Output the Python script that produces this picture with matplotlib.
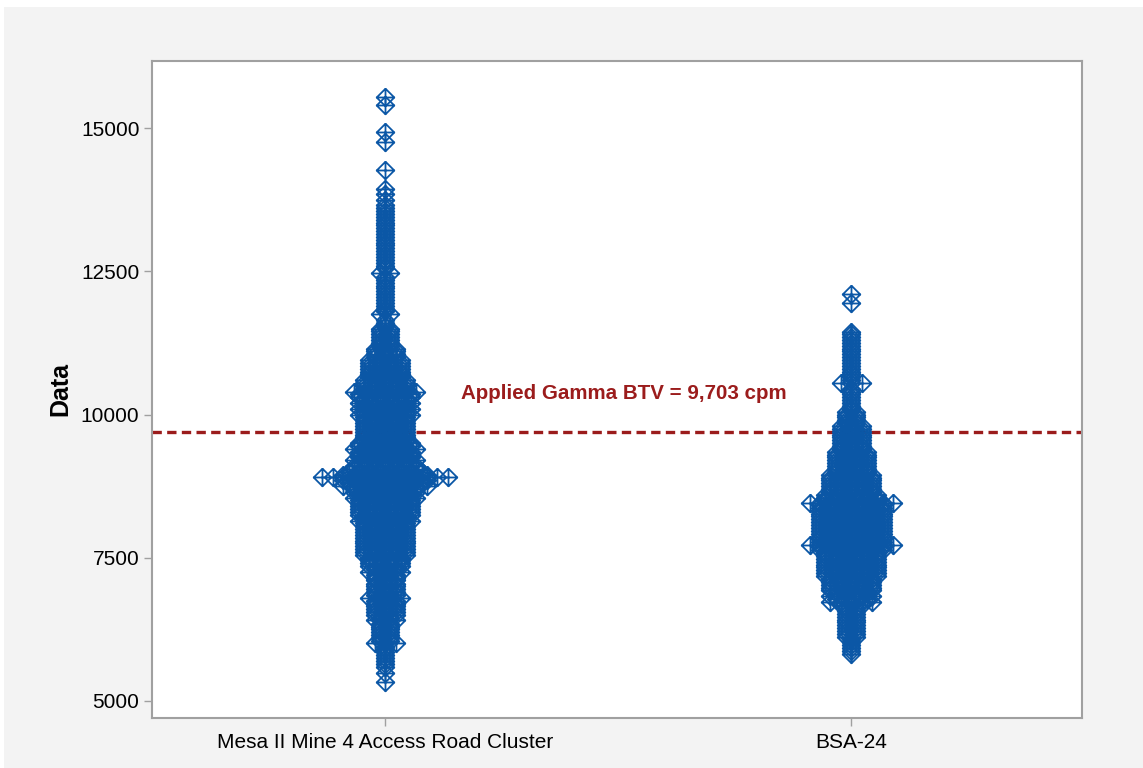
import matplotlib
matplotlib.use("Agg")
import matplotlib.pyplot as plt
from matplotlib.path import Path
from matplotlib.patches import Rectangle

plt.rcParams['font.family'] = ['Liberation Sans', 'DejaVu Sans']

# ---------------- data (stacked row value -> number of points) ----
categories = ["Mesa II Mine 4 Access Road Cluster", "BSA-24"]

g1_values = [5335, 5490, 5590, 5650, 5700, 5750, 5800, 5850, 5900, 5950,
             6010, 6050, 6100, 6150, 6200, 6250, 6300, 6350, 6410, 6450,
             6500, 6550, 6600, 6650, 6700, 6750, 6800, 6850, 6900, 6950,
             7000, 7050, 7110, 7150, 7200, 7250, 7300, 7350, 7400, 7460,
             7500, 7550, 7600, 7650, 7700, 7750, 7800, 7850, 7900, 7950,
             8000, 8050, 8100, 8150, 8200, 8250, 8300, 8350, 8400, 8450,
             8500, 8550, 8600, 8650, 8700, 8750, 8800, 8850, 8910, 8950,
             9000, 9050, 9100, 9150, 9210, 9250, 9300, 9350, 9400, 9450,
             9500, 9550, 9600, 9650, 9700, 9750, 9800, 9850, 9900, 9950,
             10000, 10050, 10100, 10150, 10200, 10250, 10300, 10350, 10390, 10450,
             10500, 10550, 10600, 10650, 10700, 10750, 10800, 10850, 10900, 10950,
             11000, 11050, 11100, 11150, 11200, 11250, 11300, 11350, 11400, 11450,
             11500, 11550, 11600, 11650, 11750, 11800, 11850, 11900, 11950, 12000,
             12050, 12100, 12150, 12200, 12250, 12300, 12350, 12400, 12470, 12550,
             12600, 12650, 12700, 12750, 12800, 12850, 12900, 12950, 13000, 13050,
             13100, 13150, 13200, 13250, 13300, 13350, 13400, 13450, 13500, 13550,
             13600, 13650, 13750, 13850, 13935, 14267, 14756, 14930, 15400, 15540]
g1_counts = [1, 1, 1, 1, 1, 1, 1, 1, 1, 1,
             3, 2, 2, 2, 2, 2, 2, 2, 3, 2,
             3, 3, 3, 3, 3, 3, 4, 3, 3, 3,
             3, 3, 3, 3, 3, 4, 3, 4, 4, 4,
             4, 5, 5, 5, 5, 5, 5, 5, 5, 5,
             5, 5, 5, 6, 5, 6, 6, 6, 6, 6,
             6, 7, 6, 7, 7, 9, 8, 9, 13, 9,
             8, 7, 7, 6, 7, 6, 6, 6, 7, 6,
             6, 5, 5, 5, 5, 5, 5, 5, 5, 5,
             6, 5, 6, 5, 6, 5, 6, 6, 7, 5,
             5, 5, 5, 4, 4, 4, 4, 4, 4, 4,
             3, 3, 3, 3, 2, 2, 2, 2, 2, 2,
             2, 1, 1, 1, 2, 1, 1, 1, 1, 1,
             1, 1, 1, 1, 1, 1, 1, 1, 2, 1,
             1, 1, 1, 1, 1, 1, 1, 1, 1, 1,
             1, 1, 1, 1, 1, 1, 1, 1, 1, 1,
             1, 1, 1, 1, 1, 1, 1, 1, 1, 1]

g2_values = [5820, 5870, 5920, 5970, 6030, 6080, 6120, 6170, 6220, 6270,
             6320, 6370, 6420, 6470, 6520, 6570, 6620, 6680, 6730, 6780,
             6830, 6880, 6930, 6980, 7030, 7080, 7130, 7180, 7230, 7280,
             7330, 7380, 7430, 7480, 7530, 7580, 7630, 7680, 7720, 7770,
             7820, 7870, 7920, 7970, 8020, 8070, 8120, 8170, 8220, 8270,
             8320, 8370, 8420, 8460, 8500, 8550, 8600, 8650, 8700, 8750,
             8800, 8850, 8900, 8950, 9000, 9050, 9100, 9150, 9200, 9250,
             9300, 9350, 9400, 9450, 9500, 9550, 9600, 9650, 9700, 9750,
             9800, 9850, 9900, 9950, 10000, 10050, 10100, 10150, 10200, 10250,
             10300, 10350, 10400, 10450, 10550, 10600, 10650, 10700, 10750, 10800,
             10850, 10900, 10950, 11000, 11050, 11100, 11150, 11200, 11250, 11300,
             11350, 11400, 11440, 11950, 12100]
g2_counts = [1, 1, 1, 1, 1, 1, 2, 2, 2, 2,
             2, 2, 2, 2, 2, 2, 2, 3, 5, 4,
             5, 4, 5, 5, 5, 5, 5, 6, 6, 6,
             6, 6, 6, 6, 6, 6, 7, 7, 9, 7,
             7, 7, 7, 7, 7, 7, 7, 7, 7, 7,
             7, 7, 7, 9, 6, 6, 6, 5, 5, 5,
             5, 5, 5, 5, 4, 4, 4, 4, 4, 4,
             4, 4, 3, 3, 3, 3, 3, 3, 3, 3,
             3, 2, 2, 2, 2, 2, 1, 1, 1, 1,
             1, 1, 1, 1, 3, 1, 1, 1, 1, 1,
             1, 1, 1, 1, 1, 1, 1, 1, 1, 1,
             1, 1, 1, 1, 1]

btv_value = 9703
btv_label = "Applied Gamma BTV = 9,703 cpm"
y_ticks = [5000, 7500, 10000, 12500, 15000]

# ---------------- figure ----------------
W, H = 1143, 768
fig = plt.figure(figsize=(W / 100, H / 100), dpi=100, facecolor="white")
bg = Rectangle((4 / W, 0), 1, (H - 7) / H, transform=fig.transFigure,
               facecolor="#f3f3f3", edgecolor="none", zorder=-10)
fig.add_artist(bg)

ax = fig.add_axes([152 / W, 1 - 718 / H, (1082 - 152) / W, (718 - 61) / H])
ax.set_zorder(5)
ax.set_facecolor("white")

# diamond-with-cross marker
verts = [(0, 1), (1, 0), (0, -1), (-1, 0), (0, 1), (-1, 0), (1, 0), (0, -1), (0, 1)]
codes = [Path.MOVETO, Path.LINETO, Path.LINETO, Path.LINETO, Path.LINETO,
         Path.MOVETO, Path.LINETO, Path.MOVETO, Path.LINETO]
marker = Path(verts, codes)

blue = "#0b57a6"
dx = 10.45 / 467.0  # horizontal spacing between stacked points (data units)

for pos, (vals, cnts) in enumerate([(g1_values, g1_counts), (g2_values, g2_counts)], start=1):
    xs, ys = [], []
    for v, n in zip(vals, cnts):
        for i in range(n):
            xs.append(pos + (i - (n - 1) / 2) * dx)
            ys.append(v)
    ax.plot(xs, ys, linestyle="none", marker=marker, markersize=12.7,
            markerfacecolor="none", markeredgecolor=blue, markeredgewidth=1.3, zorder=3)

ax.axhline(btv_value, color="#9b1c1c", linestyle=(0, (2.8, 1.6)), linewidth=2.4, zorder=2)
ax.text(1.512, 10375, btv_label, color="#9b1c1c", fontsize=14.8, fontweight="bold",
        ha="center", va="center", zorder=4)

ax.set_xlim(0.5, 2.495)
ax.set_ylim(4703, 16170)
ax.set_xticks([1, 2])
ax.set_xticklabels(categories, fontsize=15)
ax.set_yticks(y_ticks)
ax.set_yticklabels([str(t) for t in y_ticks], fontsize=15)
ax.set_ylabel("Data", fontsize=18, fontweight="bold", labelpad=6)

for s in ax.spines.values():
    s.set_color("#a0a0a0")
    s.set_linewidth(1.5)
ax.tick_params(axis="both", direction="out", length=6, width=1, color="#a0a0a0",
               labelcolor="black")
ax.tick_params(axis="x", pad=5)
ax.tick_params(axis="y", pad=3)

fig.savefig("out.png", dpi=100, facecolor=fig.get_facecolor())
